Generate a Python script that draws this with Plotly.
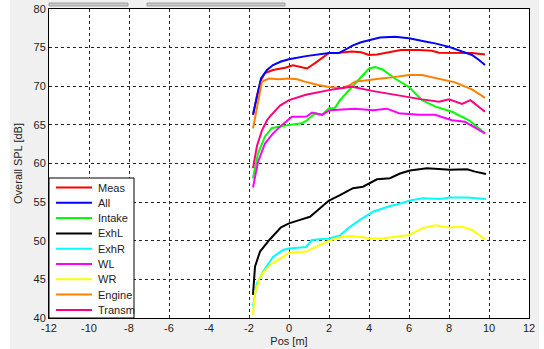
import plotly.graph_objects as go

# ---------------- data ----------------
series_names = ["Meas", "All", "Intake", "ExhL", "ExhR", "WL", "WR", "Engine", "Transm"]
series_colors = ["#ff0000", "#0000ff", "#00ff00", "#000000", "#00ffff",
                 "#ff00ff", "#ffff00", "#ff8000", "#ff0080"]

meas_pos = [-1.8, -1.6, -1.4, -1.2, -0.8, -0.2, 0.2, 0.5, 0.9, 1.3, 1.7, 2.0, 2.5, 3.15,
            3.6, 4.0, 4.4, 4.8, 5.6, 6.5, 7.15, 7.5, 8.5, 9.15, 9.8]
meas_spl = [66.3, 68.8, 70.8, 71.7, 72.1, 72.4, 72.7, 72.5, 72.3, 73.0, 73.8, 74.3, 74.35, 74.5,
            74.4, 74.05, 74.1, 74.3, 74.7, 74.7, 74.6, 74.35, 74.35, 74.3, 74.1]

all_pos = [-1.8, -1.6, -1.4, -1.1, -0.8, -0.4, 0.0, 0.85, 1.5, 2.0, 2.5, 2.8, 3.2, 3.6,
           4.05, 4.55, 5.3, 6.0, 6.8, 7.3, 8.0, 8.65, 9.15, 9.5, 9.8]
all_spl = [66.3, 68.6, 71.0, 72.1, 72.75, 73.2, 73.5, 73.9, 74.1, 74.3, 74.3, 74.7, 75.3, 75.7,
           76.0, 76.3, 76.4, 76.2, 75.8, 75.55, 75.1, 74.5, 74.05, 73.4, 72.75]

intake_pos = [-1.8, -1.55, -1.2, -0.85, -0.4, 0.0, 0.65, 0.9, 1.3, 1.65, 2.0, 2.3, 2.55,
              3.0, 3.5, 4.0, 4.3, 4.65, 5.3, 6.0, 6.65, 7.3, 8.15, 9.0, 9.8]
intake_spl = [58.1, 61.3, 63.5, 64.6, 64.8, 65.0, 65.2, 65.6, 66.5, 66.3, 67.15, 67.2, 68.2,
              69.5, 70.8, 72.3, 72.5, 72.2, 71.0, 69.9, 68.2, 67.4, 66.7, 65.6, 63.9]

exhl_pos = [-1.8, -1.7, -1.45, -0.95, -0.4, 0.0, 0.55, 1.05, 1.55, 2.0, 2.55, 3.2, 3.7,
            4.4, 5.05, 5.55, 6.05, 6.9, 8.05, 8.9, 9.3, 9.85]
exhl_spl = [43.0, 46.65, 48.6, 50.2, 51.75, 52.25, 52.7, 53.1, 54.2, 55.2, 55.9, 56.8, 57.0,
            57.95, 58.1, 58.7, 59.1, 59.4, 59.2, 59.25, 58.95, 58.65]

exhr_pos = [-1.8, -1.6, -1.3, -0.8, -0.3, 0.0, 0.85, 1.15, 2.0, 2.55, 3.05, 3.55, 4.2,
            5.05, 5.4, 6.05, 6.7, 7.55, 8.05, 8.9, 9.85]
exhr_spl = [41.5, 44.5, 46.0, 47.9, 48.8, 49.0, 49.2, 50.1, 50.3, 50.7, 51.8, 52.7, 53.75,
            54.5, 54.7, 55.2, 55.5, 55.4, 55.6, 55.6, 55.4]

wl_pos = [-1.8, -1.55, -1.2, -0.8, -0.35, 0.15, 0.6, 0.9, 1.15, 1.65, 2.05, 3.05, 3.3,
          4.2, 4.9, 5.5, 6.5, 7.3, 8.15, 8.8, 9.8]
wl_spl = [56.9, 60.2, 62.6, 63.9, 65.0, 66.05, 66.05, 66.1, 66.6, 66.3, 66.9, 67.0, 67.1,
          66.9, 67.1, 66.5, 66.3, 66.3, 65.6, 65.4, 63.9]

wr_pos = [-1.8, -1.7, -1.45, -0.95, -0.3, 0.0, 0.85, 1.55, 2.0, 2.55, 3.05, 3.7, 4.0,
          4.65, 5.15, 6.0, 6.65, 7.3, 8.0, 8.65, 9.15, 9.8]
wr_spl = [40.4, 43.2, 45.35, 46.9, 47.9, 48.45, 48.6, 49.45, 50.0, 50.45, 50.6, 50.45, 50.3,
          50.3, 50.5, 50.75, 51.6, 52.0, 51.7, 51.8, 51.4, 50.2]

engine_pos = [-1.8, -1.6, -1.35, -1.0, -0.5, 0.0, 0.4, 0.8, 1.4, 2.0, 2.65, 3.0, 3.3, 3.7,
              4.15, 4.6, 5.15, 5.6, 6.0, 6.65, 7.1, 7.5, 8.3, 9.15, 9.8]
engine_spl = [64.55, 67.35, 70.6, 71.0, 70.9, 71.0, 70.9, 70.6, 70.2, 69.9, 69.75, 70.1, 70.6, 70.7,
              70.9, 71.0, 71.15, 71.3, 71.45, 71.45, 71.2, 70.9, 70.5, 69.6, 68.5]

transm_pos = [-1.8, -1.6, -1.35, -1.1, -0.95, -0.45, 0.0, 0.85, 2.0, 3.1, 4.15, 5.15, 6.0,
              6.65, 7.5, 8.0, 8.65, 9.07, 9.8]
transm_spl = [59.4, 62.3, 64.3, 65.6, 66.1, 67.5, 68.2, 68.9, 69.5, 69.95, 69.4, 68.95, 68.65,
              68.3, 68.0, 68.3, 67.7, 68.2, 66.7]

x_ticks = [-12, -10, -8, -6, -4, -2, 0, 2, 4, 6, 8, 10, 12]
y_ticks = [40, 45, 50, 55, 60, 65, 70, 75, 80]

series_pos = [meas_pos, all_pos, intake_pos, exhl_pos, exhr_pos, wl_pos, wr_pos, engine_pos, transm_pos]
series_spl = [meas_spl, all_spl, intake_spl, exhl_spl, exhr_spl, wl_spl, wr_spl, engine_spl, transm_spl]

# ---------------- figure ----------------
FONT = "Liberation Sans, Arial, sans-serif"
fig = go.Figure()
for name, color, xs, ys in zip(series_names, series_colors, series_pos, series_spl):
    fig.add_trace(go.Scatter(x=xs, y=ys, mode="lines", name=name,
                             line=dict(color=color, width=2), showlegend=False))

W, H = 544, 349
ml, mr, mt, mb = 49, 15, 9, 31
pw, ph = W - ml - mr, H - mt - mb


def px_x(px):
    return (px - ml) / pw


def px_y(py):
    return (H - mb - py) / ph


shapes = []
# white strips at the window edges
shapes.append(dict(type="rect", xref="paper", yref="paper", x0=px_x(0), x1=px_x(10),
                   y0=px_y(H), y1=px_y(0), fillcolor="white", line=dict(width=0), layer="above"))
shapes.append(dict(type="rect", xref="paper", yref="paper", x0=px_x(539), x1=px_x(W),
                   y0=px_y(H), y1=px_y(0), fillcolor="white", line=dict(width=0), layer="above"))
# toolbar strips at the top
shapes.append(dict(type="rect", xref="paper", yref="paper", x0=px_x(49), x1=px_x(128),
                   y0=px_y(6), y1=px_y(3), fillcolor="#c8c8c8", line=dict(color="#a0a0a0", width=1),
                   layer="above"))
shapes.append(dict(type="rect", xref="paper", yref="paper", x0=px_x(147), x1=px_x(285),
                   y0=px_y(6), y1=px_y(3), fillcolor="#c8c8c8", line=dict(color="#a0a0a0", width=1),
                   layer="above"))

# legend box (MATLAB style)
leg_left, leg_right, leg_top = 49, 134, 178
shapes.append(dict(type="rect", xref="paper", yref="paper", x0=px_x(leg_left), x1=px_x(leg_right),
                   y0=0, y1=px_y(leg_top), fillcolor="white", line=dict(color="black", width=1),
                   layer="above"))
annotations = []
for i, (name, color) in enumerate(zip(series_names, series_colors)):
    yy = px_y(187.5 + i * 15.3)
    shapes.append(dict(type="line", xref="paper", yref="paper", x0=px_x(56), x1=px_x(92),
                       y0=yy, y1=yy, line=dict(color=color, width=2), layer="above"))
    annotations.append(dict(xref="paper", yref="paper", x=px_x(96), y=yy, text=name,
                            showarrow=False, xanchor="left", yanchor="middle",
                            font=dict(family=FONT, size=11, color="#222")))

axis_common = dict(showgrid=True, gridcolor="#222", griddash="3px,3px", gridwidth=1,
                   showline=True, linecolor="black", linewidth=1, mirror=True, automargin=False,
                   zeroline=False, ticks="", tickfont=dict(family=FONT, size=11, color="#222"))

fig.update_layout(
    width=W, height=H, autosize=False,
    margin=dict(l=ml, r=mr, t=mt, b=mb, autoexpand=False),
    paper_bgcolor="#f0f0f0", plot_bgcolor="white",
    xaxis=dict(range=[-12, 12], tickvals=x_ticks, ticktext=[str(v) for v in x_ticks],
               title=dict(text="Pos [m]", font=dict(family=FONT, size=11, color="#222"), standoff=4),
               **axis_common),
    yaxis=dict(range=[40, 80], tickvals=y_ticks, ticktext=[str(v) for v in y_ticks],
               title=dict(text="Overall SPL [dB]", font=dict(family=FONT, size=11, color="#222"), standoff=8),
               **axis_common),
    shapes=shapes, annotations=annotations, showlegend=False,
)

fig.write_html(
    "out.html",
    config={"responsive": False, "displayModeBar": False},
    post_script="document.body.style.margin='0';document.body.style.overflow='hidden';",
)
